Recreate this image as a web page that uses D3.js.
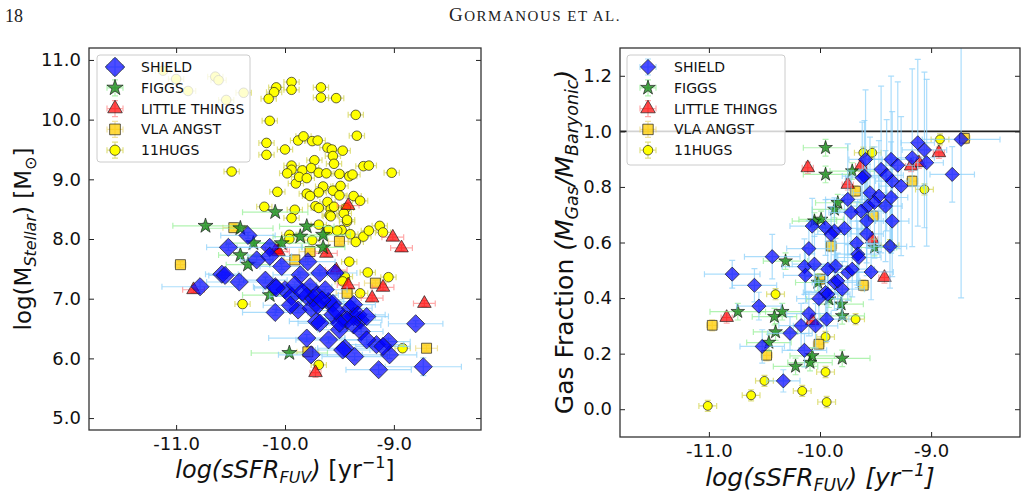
<!DOCTYPE html>
<html>
<head>
<meta charset="utf-8">
<script src="https://cdnjs.cloudflare.com/ajax/libs/d3/7.8.5/d3.min.js"></script>
<style>
body { margin: 0; background: #fff; }
svg { display: block; }
</style>
</head>
<body>
<svg width="1027" height="499"></svg>
<script>
// ticks
var xTicks = [-11, -10, -9];
var xTickLabels = ["-11.0", "-10.0", "-9.0"];
var massTicks = [5, 6, 7, 8, 9, 10, 11];
var massTickLabels = ["5.0", "6.0", "7.0", "8.0", "9.0", "10.0", "11.0"];
var fracTicks = [0, 0.2, 0.4, 0.6, 0.8, 1.0, 1.2];
var fracTickLabels = ["0.0", "0.2", "0.4", "0.6", "0.8", "1.0", "1.2"];
var seriesNames = ["SHIELD", "FIGGS", "LITTLE THINGS", "VLA ANGST", "11HUGS"];

// left panel: [log sSFR, log Mstar, xerr, yerr]
var massShield = [
  [-10.34,8.06,.25,.05],[-10.52,7.86,.2,.05],[-10.26,7.65,.15,.05],[-10.14,7.86,.3,.05],
  [-10.14,7.71,.2,.05],[-10.03,7.54,.2,.05],[-9.79,7.62,.25,.05],[-10.58,7.41,.15,.05],
  [-10.55,7.39,.15,.05],[-10.42,7.28,.3,.05],[-10.78,7.20,.35,.08],[-10.18,7.31,.2,.05],
  [-10.09,7.20,.2,.05],[-10.00,7.15,.2,.05],[-9.94,7.04,.2,.05],[-9.86,7.40,.25,.05],
  [-9.77,7.20,.2,.05],[-9.80,7.04,.2,.05],[-9.88,6.81,.2,.05],[-9.76,6.84,.2,.05],
  [-10.09,6.77,.3,.05],[-9.80,6.34,.35,.06],[-9.76,6.06,.3,.08],[-9.71,6.62,.25,.05],
  [-10.08,7.18,.2,.05],[-9.68,7.43,.2,.05],[-9.54,7.43,.2,.05],[-9.74,7.01,.2,.05],
  [-9.60,6.95,.25,.05],[-9.56,6.92,.2,.05],[-9.40,6.84,.2,.05],[-9.37,6.70,.2,.05],
  [-9.31,6.64,.2,.05],[-9.47,6.67,.2,.05],[-9.50,6.48,.2,.05],[-9.68,6.59,.2,.05],
  [-9.56,6.73,.2,.05],[-9.71,7.06,.2,.05],[-9.37,6.90,.2,.05],[-9.33,6.73,.25,.05],
  [-9.25,6.70,.2,.05],[-9.43,6.64,.2,.05],[-9.50,6.59,.2,.05],[-9.37,6.56,.25,.05],
  [-9.30,6.45,.2,.05],[-9.60,6.31,.3,.05],[-9.45,6.17,.25,.05],[-9.36,6.03,.3,.06],
  [-9.16,6.23,.25,.05],[-9.05,6.28,.2,.05],[-9.04,6.06,.25,.06],[-9.14,5.81,.3,.08],
  [-8.80,6.58,.25,.05],[-8.73,5.86,.35,.15],[-9.47,6.14,.25,.05],[-9.25,6.31,.2,.05],
  [-9.10,6.20,.25,.05],[-9.91,7.23,.2,.05],[-9.84,7.11,.2,.05],[-9.63,7.15,.2,.05],
  [-9.70,6.89,.2,.05],[-9.95,6.89,.25,.05],[-9.66,6.98,.2,.05],[-9.53,6.80,.2,.05]
];
var massFiggs = [
  [-10.73,8.22,.3,.05],[-10.09,8.45,.3,.05],[-10.41,8.18,.3,.05],[-9.80,8.21,.25,.05],
  [-9.65,8.07,.25,.05],[-9.86,8.04,.25,.05],[-10.03,7.93,.25,.05],[-9.65,7.86,.2,.05],
  [-10.41,7.73,.2,.05],[-10.29,7.93,.25,.05],[-10.34,7.57,.2,.05],[-10.14,7.06,.25,.05],
  [-9.96,6.09,.35,.05]
];
var massLittle = [
  [-9.42,8.56,.1,.05],[-9.01,8.03,.1,.05],[-8.93,7.85,.1,.05],[-9.62,7.76,.1,.05],
  [-10.08,7.82,.1,.05],[-10.84,7.15,.1,.05],[-9.42,7.23,.1,.05],[-9.10,7.19,.1,.05],
  [-9.20,7.01,.1,.05],[-8.72,6.92,.1,.05],[-9.72,5.76,.05,.08],[-9.53,7.48,.1,.05],
  [-10.06,7.79,.1,.05]
];
var massAngst = [
  [-10.47,8.19,.1,.05],[-9.50,7.96,.1,.05],[-10.96,7.57,.05,.05],[-9.77,7.79,.1,.05],
  [-9.91,7.65,.1,.05],[-9.17,7.26,.1,.05],[-9.43,7.09,.1,.05],[-8.70,6.17,.1,.05],
  [-9.79,6.11,.1,.05]
];
var massHugsErr = [0.07, 0.05];
var massHugs = [
  [-11.12,10.82],[-11.0,10.68],[-10.89,10.48],[-10.64,10.72],[-10.61,10.66],[-10.54,10.33],[-10.38,10.45],
  [-9.94,10.63],[-9.94,10.50],[-10.08,10.54],[-10.10,10.46],[-10.15,10.35],[-10.14,9.98],
  [-9.67,10.54],[-9.67,10.37],[-9.53,10.36],[-9.35,10.08],[-9.34,9.73],[-10.17,9.61],
  [-10.17,9.41],[-10.00,9.50],[-9.88,9.65],[-9.83,9.72],[-9.75,9.64],[-9.70,9.65],
  [-9.61,9.53],[-9.57,9.50],[-9.47,9.48],[-9.73,9.32],[-9.56,9.39],[-9.55,9.26],
  [-10.49,9.13],[-9.94,9.23],[-9.94,9.16],[-9.84,9.15],[-9.76,9.19],[-9.98,9.10],
  [-9.90,8.93],[-9.87,9.04],[-9.80,9.02],[-9.69,9.11],[-9.62,9.10],[-9.50,9.09],
  [-9.41,9.05],[-9.38,9.08],[-9.28,9.22],[-9.23,9.23],[-9.02,9.11],[-9.65,8.88],
  [-9.56,8.81],[-9.49,8.89],[-9.69,8.78],[-9.80,8.76],[-9.77,8.72],[-10.07,8.79],
  [-9.50,8.73],[-9.37,8.72],[-9.31,8.64],[-9.72,8.55],[-9.69,8.52],[-9.61,8.62],
  [-9.58,8.50],[-9.55,8.54],[-9.44,8.52],[-10.19,8.54],[-9.91,8.49],[-9.94,8.35],
  [-9.59,8.40],[-9.46,8.43],[-9.43,8.29],[-9.48,8.15],[-9.40,8.08],[-9.35,7.95],
  [-9.28,8.04],[-9.23,8.14],[-9.13,8.22],[-9.10,8.11],[-9.96,8.07],[-9.96,8.00],
  [-9.75,7.98],[-9.69,8.24],[-9.60,8.15],[-9.52,8.14],[-9.41,7.62],[-9.24,7.44],
  [-9.05,7.36],[-9.45,7.37],[-9.47,7.29],[-9.31,7.09],[-10.39,6.91],[-8.92,6.17],
  [-9.69,5.89],[-9.58,8.38],[-9.43,8.32]
];

// right panel: [log sSFR, gas fraction, xerr, yerr]
var fracShield = [
  [-9.12,0.959,.15,.3],[-9.06,0.933,.2,.28],[-9.17,0.905,.2,.32],[-9.04,0.887,.15,.3],
  [-8.81,0.845,.2,.1],[-8.73,0.971,.35,.57],[-9.59,0.899,.15,.25],[-9.45,0.863,.15,.3],
  [-9.36,0.899,.2,.3],[-9.30,0.878,.15,.3],[-9.27,0.803,.2,.25],[-9.35,0.821,.15,.25],
  [-9.40,0.842,.15,.2],[-9.60,0.839,.2,.2],[-9.55,0.779,.15,.2],[-9.47,0.767,.15,.2],
  [-9.41,0.731,.15,.2],[-9.57,0.731,.15,.15],[-9.63,0.713,.2,.15],[-9.72,0.708,.2,.15],
  [-9.75,0.755,.2,.2],[-9.35,0.677,.15,.2],[-9.58,0.677,.15,.15],[-9.58,0.631,.15,.15],
  [-9.67,0.597,.2,.15],[-9.78,0.651,.2,.12],[-9.87,0.641,.15,.12],[-9.95,0.654,.15,.1],
  [-10.07,0.659,.2,.1],[-9.90,0.629,.15,.1],[-9.66,0.558,.2,.12],[-10.10,0.578,.2,.1],
  [-10.43,0.549,.25,.08],[-9.37,0.586,.15,.15],[-9.62,0.833,.15,.2],[-9.51,0.744,.15,.2],
  [-9.36,0.762,.15,.2],[-9.65,0.546,.2,.1],[-9.54,0.494,.2,.1],[-9.75,0.492,.2,.1],
  [-9.86,0.515,.2,.1],[-9.87,0.456,.2,.1],[-9.80,0.432,.2,.1],[-9.95,0.420,.2,.1],
  [-10.79,0.486,.25,.05],[-10.59,0.446,.2,.06],[-10.14,0.513,.2,.1],[-10.05,0.522,.2,.1],
  [-10.13,0.482,.2,.1],[-9.84,0.462,.2,.1],[-9.93,0.414,.2,.1],[-10.55,0.371,.2,.05],
  [-10.17,0.301,.2,.08],[-10.10,0.344,.2,.08],[-10.04,0.300,.2,.08],[-9.94,0.324,.2,.08],
  [-10.27,0.273,.2,.06],[-10.52,0.226,.2,.06],[-10.14,0.212,.2,.06],[-10.33,0.102,.15,.04],
  [-10.01,0.398,.2,.08],[-9.93,0.504,.2,.1],[-9.71,0.504,.2,.1]
];
var fracFiggs = [
  [-9.95,0.941,.2,.03],[-9.95,0.845,.2,.03],[-9.84,0.743,.2,.03],[-9.87,0.719,.2,.03],
  [-10.05,0.677,.2,.03],[-9.99,0.683,.2,.03],[-9.71,0.857,.2,.03],[-10.31,0.533,.2,.03],
  [-9.51,0.582,.2,.03],[-10.74,0.351,.25,.03],[-10.41,0.333,.2,.03],[-10.34,0.351,.2,.03],
  [-10.40,0.278,.2,.03],[-10.22,0.154,.2,.03],[-10.09,0.168,.2,.03],[-9.80,0.183,.25,.03],
  [-9.81,0.378,.2,.03],[-9.80,0.336,.2,.03],[-10.46,0.240,.2,.03],[-10.07,0.192,.2,.03],
  [-9.92,0.396,.2,.03],[-10.02,0.456,.2,.03]
];
var fracLittle = [
  [-10.11,0.869,.05,.02],[-8.93,0.923,.05,.02],[-9.18,0.875,.05,.02],[-9.11,0.887,.05,.02],
  [-9.75,0.809,.05,.02],[-9.63,0.875,.05,.02],[-9.53,0.612,.05,.02],[-9.42,0.474,.05,.02],
  [-10.84,0.330,.05,.02],[-10.07,0.318,.05,.02]
];
var fracAngst = [
  [-8.70,0.975,.05,.02],[-9.17,0.821,.05,.02],[-9.52,0.695,.05,.02],[-9.68,0.785,.05,.02],
  [-9.90,0.587,.05,.02],[-10.97,0.302,.05,.02],[-10.48,0.194,.05,.02],[-10.01,0.234,.05,.02],
  [-9.61,0.446,.05,.02],[-10.00,0.468,.05,.02]
];
var fracHugsErr = [0.08, 0.02];
var fracHugs = [
  [-8.92,0.971],[-9.61,0.923],[-9.53,0.923],[-9.06,0.791],[-9.37,0.590],[-10.40,0.414],
  [-9.68,0.324],[-10.50,0.102],[-10.62,0.050],[-11.01,0.012],[-10.16,0.066],[-9.95,0.134],
  [-9.94,0.026],[-9.95,0.260]
];

var svg = d3.select('svg');
var sans = "DejaVu Sans, sans-serif";
var serif = "Liberation Serif, DejaVu Serif, serif";

// running head
svg.append("text").attr("x", 5).attr("y", 22)
  .style("font-family", serif).style("font-size", "18px").style("fill", "#222")
  .text("18");
var head = svg.append("text").attr("x", 535).attr("y", 21).attr("text-anchor", "middle")
  .style("font-family", serif).style("font-size", "19px").style("fill", "#222")
  .style("letter-spacing", "1.5px");
head.append("tspan").text("G");
head.append("tspan").style("font-size", "15px").text("ORMANOUS ET AL.");

var styles = [
  {sym: d3.symbolSquare, rot: 45, fill: "#0000ff", fo: 0.7, err: "#87cefa", eo: 0.7},
  {sym: d3.symbolStar, rot: 0, fill: "#007a00", fo: 0.7, err: "#90ee90", eo: 0.7},
  {sym: d3.symbolTriangle, rot: 0, fill: "#ff0000", fo: 0.7, err: "#ff7070", eo: 0.6},
  {sym: d3.symbolSquare, rot: 0, fill: "#ffcc00", fo: 0.75, err: "#e8d060", eo: 0.6},
  {sym: d3.symbolCircle, rot: 0, fill: "#ffff00", fo: 1, err: "#d8d860", eo: 0.8}
];

var errPath = function(cx, cy, xl, xr, yt, yb) {
  var c = 3;
  return "M" + xl + "," + cy + "H" + xr +
    "M" + xl + "," + (cy - c) + "V" + (cy + c) +
    "M" + xr + "," + (cy - c) + "V" + (cy + c) +
    "M" + cx + "," + yt + "V" + yb +
    "M" + (cx - c) + "," + yt + "H" + (cx + c) +
    "M" + (cx - c) + "," + yb + "H" + (cx + c);
}

var drawPanel = function(p) {
  var x = d3.scaleLinear().domain([-11.8, -8.2]).range([p.x0, p.x1]);
  var y = d3.scaleLinear().domain(p.ydom).range([p.y1, p.y0]);
  var id = "clip" + p.x0;
  svg.append("clipPath").attr("id", id).append("rect")
    .attr("x", p.x0).attr("y", p.y0).attr("width", p.x1 - p.x0).attr("height", p.y1 - p.y0);
  var g = svg.append("g").attr("clip-path", "url(#" + id + ")");

  if (p.hline != null) {
    g.append("line").attr("x1", p.x0).attr("x2", p.x1)
      .attr("y1", y(p.hline)).attr("y2", y(p.hline))
      .style("stroke", "#222").style("stroke-width", 1.6);
  }

  // plot order: 11HUGS, VLA ANGST, LITTLE THINGS, FIGGS, SHIELD
  [4, 3, 2, 1, 0].forEach(function(k) {
    var pts = p.series[k], st = styles[k];
    g.append("g").selectAll("path").data(pts).join("path")
      .attr("d", function(d) {
        var xe = d.length > 2 ? d[2] : p.hugsErr[0];
        var ye = d.length > 3 ? d[3] : p.hugsErr[1];
        return errPath(x(d[0]), y(d[1]), x(d[0] - xe), x(d[0] + xe), y(d[1] + ye), y(d[1] - ye));
      })
      .style("fill", "none").style("stroke", st.err).style("stroke-opacity", st.eo)
      .style("stroke-width", 1.2);
    g.append("g").selectAll("path").data(pts).join("path")
      .attr("d", d3.symbol(st.sym, p.sizes[k]))
      .attr("transform", function(d) { return "translate(" + x(d[0]) + "," + y(d[1]) + ") rotate(" + st.rot + ")"; })
      .style("fill", st.fill).style("fill-opacity", st.fo)
      .style("stroke", "#1a1a1a").style("stroke-opacity", 0.75).style("stroke-width", 0.9);
  });

  // axes with inward ticks on all sides
  var fmtX = function(d, i) { return xTickLabels[i]; };
  var fmtY = function(d, i) { return p.yLabels[i]; };
  var ax = [
    svg.append("g").attr("transform", "translate(0," + p.y1 + ")")
      .call(d3.axisBottom(x).tickValues(xTicks).tickFormat(fmtX).tickSizeInner(-5).tickSizeOuter(0).tickPadding(7)),
    svg.append("g").attr("transform", "translate(0," + p.y0 + ")")
      .call(d3.axisTop(x).tickValues(xTicks).tickFormat("").tickSizeInner(-5).tickSizeOuter(0)),
    svg.append("g").attr("transform", "translate(" + p.x0 + ",0)")
      .call(d3.axisLeft(y).tickValues(p.yTicks).tickFormat(fmtY).tickSizeInner(-5).tickSizeOuter(0).tickPadding(8)),
    svg.append("g").attr("transform", "translate(" + p.x1 + ",0)")
      .call(d3.axisRight(y).tickValues(p.yTicks).tickFormat("").tickSizeInner(-5).tickSizeOuter(0))
  ];
  ax.forEach(function(a) {
    a.select(".domain").remove();
    a.selectAll("line").style("stroke", "#222").style("stroke-width", 1);
    a.selectAll("text").style("font-family", sans).style("font-size", "18px").style("fill", "#111");
  });
  svg.append("rect").attr("x", p.x0).attr("y", p.y0)
    .attr("width", p.x1 - p.x0).attr("height", p.y1 - p.y0)
    .style("fill", "none").style("stroke", "#333").style("stroke-width", 1.3);

  // legend
  var L = p.legend;
  svg.append("rect").attr("x", L.x).attr("y", L.y).attr("width", L.w).attr("height", L.h)
    .attr("rx", 3).style("fill", "#fff").style("fill-opacity", 0.8)
    .style("stroke", "#ccc").style("stroke-width", 1);
  seriesNames.forEach(function(name, k) {
    var st = styles[k];
    var cy = L.y + 12 + k * 20.8, cx = L.mx;
    svg.append("path").attr("d", errPath(cx, cy, cx - 8, cx + 8, cy - 8, cy + 8))
      .style("fill", "none").style("stroke", st.err).style("stroke-opacity", st.eo).style("stroke-width", 1.2);
    svg.append("path").attr("d", d3.symbol(st.sym, p.sizes[k] * 1.15)())
      .attr("transform", "translate(" + cx + "," + cy + ") rotate(" + st.rot + ")")
      .style("fill", st.fill).style("fill-opacity", st.fo)
      .style("stroke", "#1a1a1a").style("stroke-opacity", 0.75).style("stroke-width", 0.9);
    svg.append("text").attr("x", L.tx).attr("y", cy + 5)
      .style("font-family", sans).style("font-size", "14px").style("fill", "#111").text(name);
  });
  return {x: x, y: y};
}

drawPanel({
  x0: 89, x1: 481, y0: 48, y1: 430, ydom: [4.8, 11.2],
  yTicks: massTicks, yLabels: massTickLabels,
  series: [massShield, massFiggs, massLittle, massAngst, massHugs], hugsErr: massHugsErr,
  sizes: [165, 70, 80, 100, 72],
  legend: {x: 97, y: 55, w: 153, h: 107, mx: 115, tx: 141}
});
drawPanel({
  x0: 620, x1: 1020, y0: 48, y1: 437, ydom: [-0.1, 1.3], hline: 1.0,
  yTicks: fracTicks, yLabels: fracTickLabels,
  series: [fracShield, fracFiggs, fracLittle, fracAngst, fracHugs], hugsErr: fracHugsErr,
  sizes: [100, 58, 80, 95, 62],
  legend: {x: 627, y: 55, w: 158, h: 110, mx: 648, tx: 674}
});

// axis titles
var lx = svg.append("text").attr("x", 285).attr("y", 478).attr("text-anchor", "middle")
  .style("font-family", sans).style("font-size", "24px").style("fill", "#111");
lx.append("tspan").style("font-style", "italic").text("log(sSFR");
lx.append("tspan").attr("dy", 5).style("font-size", "16px").style("font-style", "italic").text("FUV");
lx.append("tspan").attr("dy", -5).style("font-style", "italic").text(")");
lx.append("tspan").text(" [yr");
lx.append("tspan").attr("dy", -10).style("font-size", "16px").text("\u22121");
lx.append("tspan").attr("dy", 10).text("]");

var rx = svg.append("text").attr("x", 820).attr("y", 486).attr("text-anchor", "middle")
  .style("font-family", sans).style("font-size", "25px").style("fill", "#111").style("font-style", "italic");
rx.append("tspan").text("log(sSFR");
rx.append("tspan").attr("dy", 5).style("font-size", "17px").text("FUV");
rx.append("tspan").attr("dy", -5).text(") [yr");
rx.append("tspan").attr("dy", -10).style("font-size", "17px").text("\u22121");
rx.append("tspan").attr("dy", 10).text("]");

var ly = svg.append("text").attr("transform", "translate(31,239) rotate(-90)").attr("text-anchor", "middle")
  .style("font-family", sans).style("font-size", "23px").style("fill", "#111");
ly.append("tspan").text("log(M");
ly.append("tspan").attr("dy", 5).style("font-size", "16px").style("font-style", "italic").text("Stellar");
ly.append("tspan").attr("dy", -5).text(") [M");
ly.append("tspan").attr("dy", 5).style("font-size", "16px").text("\u2299");
ly.append("tspan").attr("dy", -5).text("]");

var ry = svg.append("text").attr("transform", "translate(573,242) rotate(-90)").attr("text-anchor", "middle")
  .style("font-family", sans).style("font-size", "25px").style("fill", "#111");
ry.append("tspan").text("Gas Fraction ");
ry.append("tspan").style("font-style", "italic").text("(M");
ry.append("tspan").attr("dy", 5).style("font-size", "17.5px").style("font-style", "italic").text("Gas");
ry.append("tspan").attr("dy", -5).style("font-style", "italic").text("/M");
ry.append("tspan").attr("dy", 5).style("font-size", "17.5px").style("font-style", "italic").text("Baryonic");
ry.append("tspan").attr("dy", -5).style("font-style", "italic").text(")");
</script>
</body>
</html>
